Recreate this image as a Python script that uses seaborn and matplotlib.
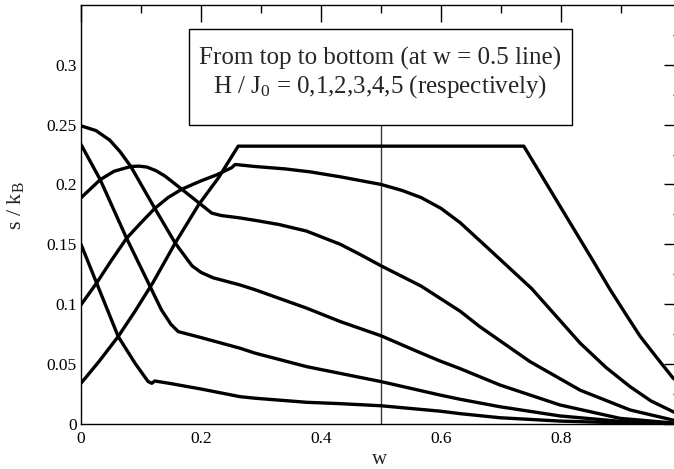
import numpy as np
import pandas as pd
import matplotlib
matplotlib.use('Agg')
import matplotlib.pyplot as plt
import seaborn as sns
from matplotlib.patches import Rectangle
from matplotlib.ticker import MultipleLocator

# ---- data (w, s/kB) ----
field_values = [0, 1, 2, 3, 4, 5]

w_h0 = [0.0, 0.03, 0.062, 0.09, 0.12, 0.157, 0.196, 0.229, 0.262, 0.738, 0.809, 0.85, 0.882, 0.91, 0.932, 0.96, 0.987, 1.0]
s_h0 = [0.0338, 0.052, 0.0729, 0.094, 0.118, 0.151, 0.183, 0.2055, 0.232, 0.232, 0.173, 0.139, 0.112, 0.090, 0.073, 0.055, 0.038, 0.0338]

w_h1 = [0.0, 0.026, 0.05, 0.076, 0.10, 0.123, 0.145, 0.168, 0.2, 0.226, 0.251, 0.257, 0.29, 0.34, 0.382, 0.432, 0.5, 0.535, 0.567, 0.6, 0.632, 0.682, 0.751, 0.79, 0.832, 0.875, 0.915, 0.95, 0.987, 1.0]
s_h1 = [0.0994, 0.1176, 0.136, 0.155, 0.168, 0.180, 0.189, 0.196, 0.203, 0.208, 0.214, 0.2167, 0.215, 0.213, 0.2105, 0.2064, 0.200, 0.195, 0.189, 0.180, 0.168, 0.145, 0.113, 0.091, 0.0673, 0.047, 0.031, 0.019, 0.010, 0.007]

w_h2 = [0.0, 0.032, 0.055, 0.083, 0.097, 0.11, 0.125, 0.14, 0.168, 0.198, 0.218, 0.234, 0.265, 0.29, 0.33, 0.376, 0.432, 0.465, 0.5, 0.567, 0.632, 0.665, 0.748, 0.832, 0.915, 0.987, 1.0]
s_h2 = [0.1888, 0.204, 0.211, 0.215, 0.2153, 0.2145, 0.2115, 0.207, 0.196, 0.184, 0.176, 0.174, 0.172, 0.170, 0.1665, 0.161, 0.150, 0.1415, 0.132, 0.115, 0.094, 0.081, 0.052, 0.028, 0.0115, 0.003, 0.002]

w_h3 = [0.0, 0.025, 0.048, 0.065, 0.083, 0.123, 0.157, 0.185, 0.20, 0.22, 0.265, 0.29, 0.376, 0.432, 0.5, 0.567, 0.598, 0.632, 0.698, 0.798, 0.898, 1.0]
s_h3 = [0.249, 0.245, 0.237, 0.2275, 0.215, 0.180, 0.151, 0.132, 0.1265, 0.122, 0.116, 0.112, 0.0966, 0.0854, 0.0735, 0.059, 0.0525, 0.046, 0.0324, 0.0157, 0.0045, 0.0]

w_h4 = [0.0, 0.032, 0.076, 0.11, 0.134, 0.15, 0.162, 0.20, 0.265, 0.29, 0.376, 0.5, 0.598, 0.632, 0.698, 0.798, 0.898, 1.0]
s_h4 = [0.2334, 0.204, 0.155, 0.120, 0.0952, 0.083, 0.077, 0.072, 0.0631, 0.059, 0.0477, 0.0352, 0.024, 0.0204, 0.0142, 0.0065, 0.002, 0.0]

w_h5 = [0.0, 0.026, 0.062, 0.09, 0.105, 0.112, 0.118, 0.123, 0.15, 0.2, 0.265, 0.29, 0.376, 0.43, 0.5, 0.598, 0.632, 0.698, 0.798, 0.9, 1.0]
s_h5 = [0.150, 0.1176, 0.0729, 0.0506, 0.040, 0.0352, 0.0338, 0.0357, 0.0335, 0.029, 0.0226, 0.0213, 0.0179, 0.0168, 0.0150, 0.0105, 0.0084, 0.005, 0.0022, 0.0007, 0.0]

x_ticks = [0, 0.2, 0.4, 0.6, 0.8, 1.0]
x_tick_labels = ['0', '0.2', '0.4', '0.6', '0.8', '']
y_ticks = [0, 0.05, 0.1, 0.15, 0.2, 0.25, 0.3]
y_tick_labels = ['0', '0.05', '0.1', '0.15', '0.2', '0.25', '0.3']
box_lines = ["From top to bottom (at w = 0.5 line)",
             r"H / J$_{\rm 0}$ = 0,1,2,3,4,5 (respectively)"]

# ---- style ----
sns.set_style('white')
plt.rcParams['font.family'] = ['Liberation Serif', 'DejaVu Serif']
plt.rcParams['mathtext.fontset'] = 'custom'
plt.rcParams['mathtext.rm'] = 'Liberation Serif'
plt.rcParams['mathtext.it'] = 'Liberation Serif:italic'

fig = plt.figure(figsize=(6.74, 4.69), dpi=100)
ax = fig.add_axes([81 / 674, 45.3 / 469, 600 / 674, 418.7 / 469])

series_w = [w_h0, w_h1, w_h2, w_h3, w_h4, w_h5]
series_s = [s_h0, s_h1, s_h2, s_h3, s_h4, s_h5]
frames = [pd.DataFrame({'w': ws, 's': ss, 'H': h})
          for h, ws, ss in zip(field_values, series_w, series_s)]
df = pd.concat(frames, ignore_index=True)

sns.lineplot(data=df, x='w', y='s', units='H', estimator=None, sort=False,
             color='black', lw=2.4, ax=ax, legend=False, zorder=3)

ax.vlines(0.5, 0, 0.3, color='#3a3a3a', lw=1.0, zorder=2)

ax.add_patch(Rectangle((0.18, 0.25), 0.638, 0.0803, transform=ax.transData,
                       fc='white', ec='black', lw=1.0, zorder=5))
ax.text(0.499, 0.3004, box_lines[0], ha='center', va='baseline', fontsize=18, zorder=6)
ax.text(0.499, 0.2770, box_lines[1], ha='center', va='baseline', fontsize=18, zorder=6)

ax.set_xlim(0, 1)
ax.set_ylim(0, 0.35)
ax.set_xticks(x_ticks)
ax.set_xticklabels(x_tick_labels)
ax.set_yticks(y_ticks)
ax.set_yticklabels(y_tick_labels)
ax.xaxis.set_minor_locator(MultipleLocator(0.1))
ax.yaxis.set_minor_locator(MultipleLocator(0.025))
ax.tick_params(which='both', direction='in', top=True, right=True, width=1, colors='black')
ax.tick_params(which='major', length=12, labelsize=12.5)
ax.tick_params(axis='x', which='major', pad=5)
ax.tick_params(axis='y', which='major', pad=3)
ax.tick_params(which='minor', length=6)
for sp in ax.spines.values():
    sp.set_color('black')
    sp.set_linewidth(1.0)

ax.set_xlabel('w', fontsize=15)
ax.set_ylabel(r's / k$_{\rm B}$', fontsize=16)
ax.xaxis.set_label_coords(0.4983, -0.064)
ax.yaxis.set_label_coords(-0.092, 0.52)

fig.savefig('out.png', dpi=100)
